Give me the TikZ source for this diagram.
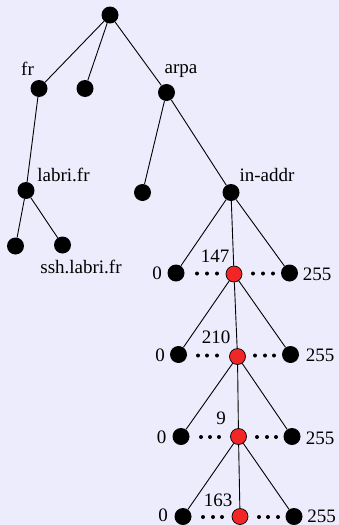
\documentclass[tikz,border=0pt]{standalone}
\usepackage{fontspec}
\setmainfont{Liberation Serif}
\definecolor{bg}{RGB}{236,236,252}
\definecolor{nodered}{RGB}{242,38,38}
\begin{document}
\begin{tikzpicture}[x=1pt,y=-1pt,
  dot/.style={circle, fill=black, inner sep=0pt, minimum size=17pt},
  reddot/.style={circle, fill=nodered, draw=black, line width=0.7pt, inner sep=0pt, minimum size=16pt},
  lbl/.style={font=\fontsize{19}{19}\selectfont, inner sep=0pt},
  link/.style={line width=0.9pt},
  pt/.style={fill=black}]
\fill[bg] (0,0) rectangle (339,525);
\useasboundingbox (0,0) rectangle (339,525);
% tree nodes
\node[dot] (root) at (110,15) {};
\node[dot] (fr) at (39,88.5) {};
\node[dot] (mid) at (85,88.5) {};
\node[dot] (arpa) at (166.5,92.5) {};
\node[dot] (labri) at (26,190.5) {};
\node[dot] (arpac) at (142.5,192.5) {};
\node[dot] (inaddr) at (231,192.5) {};
\node[dot] (la) at (15.5,246) {};
\node[dot] (ssh) at (62.5,245) {};
% rows
\node[dot] (l1) at (176,273) {};
\node[reddot] (r1) at (234,274) {};
\node[dot] (g1) at (289.5,273) {};
\node[dot] (l2) at (178.5,354.5) {};
\node[reddot] (r2) at (237.5,356.5) {};
\node[dot] (g2) at (290.5,354.5) {};
\node[dot] (l3) at (181,436.5) {};
\node[reddot] (r3) at (238.5,436.5) {};
\node[dot] (g3) at (292,436.5) {};
\node[dot] (l4) at (183,516.5) {};
\node[reddot] (r4) at (240,516.5) {};
\node[dot] (g4) at (294,516.5) {};
% labels
\node[lbl] (tfr) at (27.5,68.5) {fr};
\node[lbl] (tarpa) at (181,71) {arpa};
\node[lbl] (tlabri) at (63.5,175) {labri.fr};
\node[lbl] (tssh) at (81,267) {ssh.labri.fr};
\node[lbl] (tin) at (267,175) {in-addr};
\node[lbl] (a0) at (157,273) {0};
\node[lbl] (a1) at (215,256) {147};
\node[lbl] (a2) at (317,274) {255};
\node[lbl] (b0) at (160,355) {0};
\node[lbl] (b1) at (216,337) {210};
\node[lbl] (b2) at (320,355) {255};
\node[lbl] (c0) at (161.5,437) {0};
\node[lbl] (c1) at (221,418) {9};
\node[lbl] (c2) at (320,438) {255};
\node[lbl] (d0) at (163,515.5) {0};
\node[lbl] (d1) at (218,500) {163};
\node[lbl] (d2) at (321.5,516) {255};
% edges
\draw[link] (root) -- (fr);
\draw[link] (root) -- (mid);
\draw[link] (root) -- (arpa);
\draw[link] (fr) -- (labri);
\draw[link] (labri) -- (la);
\draw[link] (labri) -- (ssh);
\draw[link] (arpa) -- (arpac);
\draw[link] (arpa) -- (inaddr);
\draw[link] (inaddr) -- (l1);
\draw[link] (inaddr) -- (r1);
\draw[link] (inaddr) -- (g1);
\draw[link] (r1) -- (l2);
\draw[link] (r1) -- (r2);
\draw[link] (r1) -- (g2);
\draw[link] (r2) -- (l3);
\draw[link] (r2) -- (r3);
\draw[link] (r2) -- (g3);
\draw[link] (r3) -- (l4);
\draw[link] (r3) -- (r4);
\draw[link] (r3) -- (g4);
% ellipsis dots
\foreach \x in {197,207,217,253,263,273} \fill[pt] (\x,273.5) circle (2pt);
\foreach \x in {198,207,217,255,265,274} \fill[pt] (\x,355.5) circle (2pt);
\foreach \x in {201,210,219,257,267,276} \fill[pt] (\x,437) circle (2pt);
\foreach \x in {203,213,222,259,268,278} \fill[pt] (\x,517) circle (2pt);
\end{tikzpicture}
\end{document}
